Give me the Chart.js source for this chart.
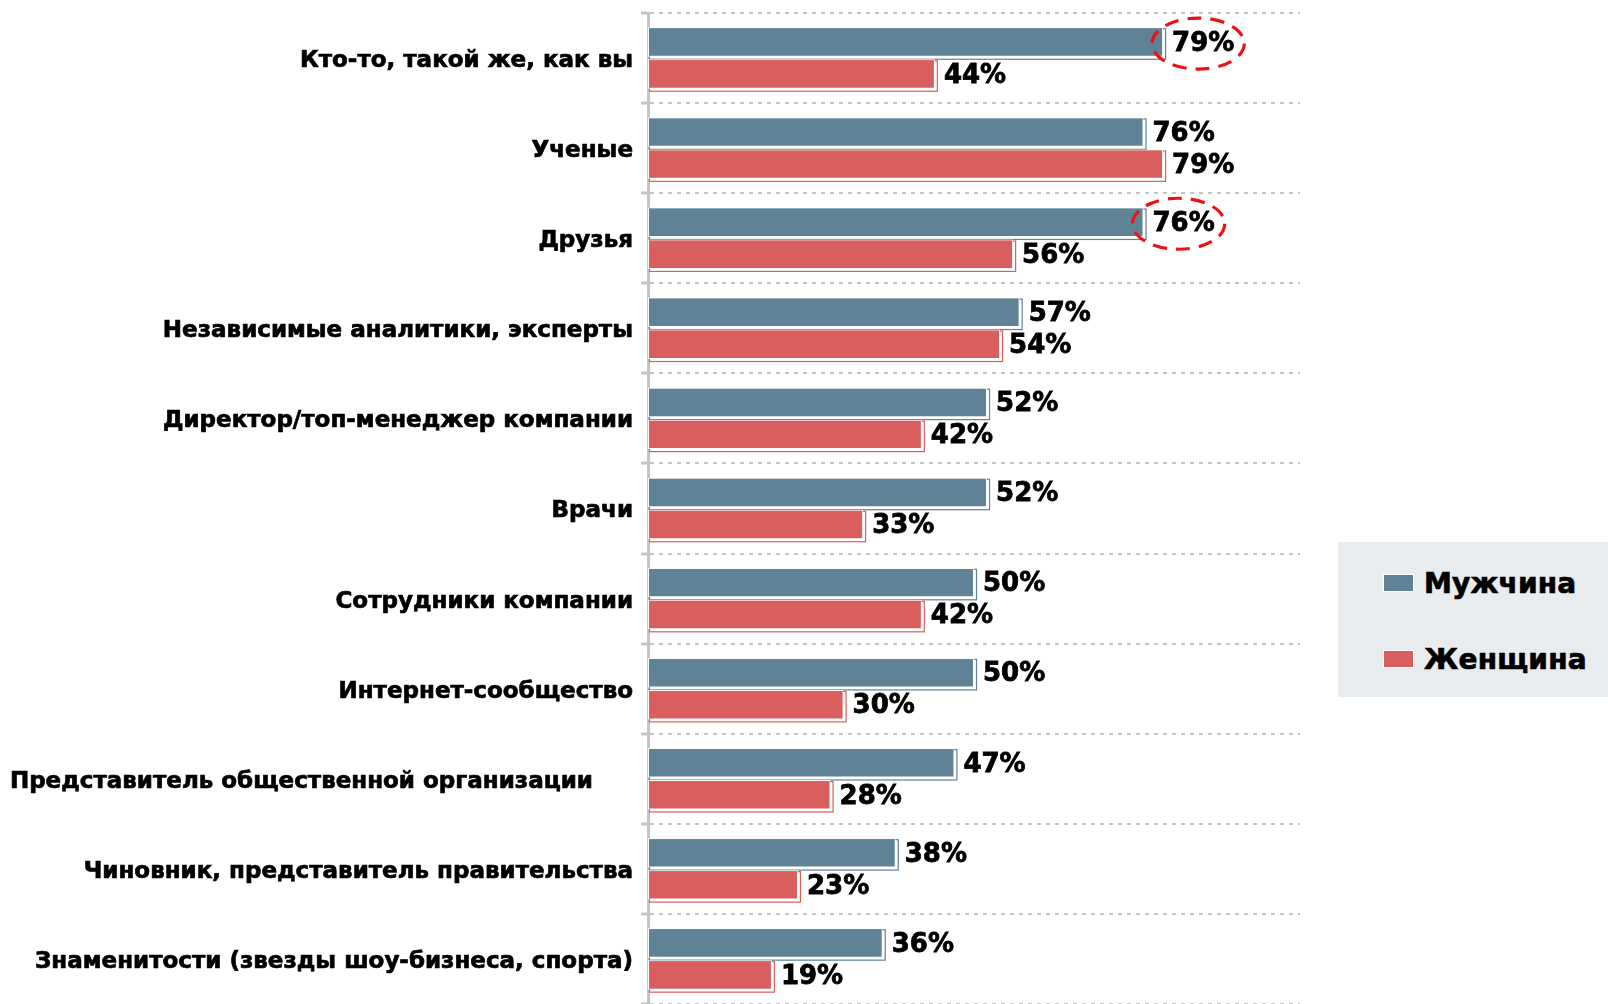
<!DOCTYPE html>
<html lang="ru">
<head>
<meta charset="utf-8">
<title>Кому доверяют: мужчины и женщины</title>
<script src="https://cdn.jsdelivr.net/npm/chart.js@4.4.1/dist/chart.umd.min.js"></script>
<style>
  html, body { margin: 0; padding: 0; background: #ffffff; }
  #wrap { position: relative; width: 1608px; height: 1004px; overflow: hidden; }
  #chart { position: absolute; left: 0; top: 0; }
  #legend {
    position: absolute; left: 1338px; top: 542px; width: 270px; height: 155px;
    background: #e9ecee; font-family: "DejaVu Sans", Verdana, sans-serif; font-weight: bold;
  }
  .item { position: absolute; left: 45px; height: 34px; display: flex; align-items: center; }
  .swatch { position: relative; width: 29px; height: 16px; margin-right: 10px; border: 1px solid #fff; }
  .swatch::after { content: ""; position: absolute; left: 1px; top: 1px; width: 29px; height: 16px; border: 1px solid var(--c); z-index: -1; }
  .item span { font-size: 28px; color: #000; letter-spacing: 0.2px; -webkit-text-stroke: 0.7px #000; }
</style>
</head>
<body>
<div id="wrap">
  <canvas id="chart" width="1608" height="1004"></canvas>
  <div id="legend"></div>
</div>
<script>
// Categories (top to bottom)
const categories = [
  'Кто-то, такой же, как вы',
  'Ученые',
  'Друзья',
  'Независимые аналитики, эксперты',
  'Директор/топ-менеджер компании',
  'Врачи',
  'Сотрудники компании',
  'Интернет-сообщество',
  'Представитель общественной организации     ',
  'Чиновник, представитель правительства',
  'Знаменитости (звезды шоу-бизнеса, спорта)'
];

// Share of respondents, %
const seriesNames = ['Мужчина', 'Женщина'];
const menValues = [79, 76, 76, 57, 52, 52, 50, 50, 47, 38, 36];
const womenValues = [44, 79, 56, 54, 42, 33, 42, 30, 28, 23, 19];

// Circled values: category index in the male series
const highlightedMen = [0, 2];

const seriesColors = ['#5f8296', '#d95f5f'];
const FONT = '"DejaVu Sans", Verdana, sans-serif';

// Thin offset outline behind each bar
const barOutline = {
  id: 'barOutline',
  beforeDatasetsDraw(chart) {
    const ctx = chart.ctx;
    chart.data.datasets.forEach((ds, di) => {
      const meta = chart.getDatasetMeta(di);
      meta.data.forEach(bar => {
        const p = bar.getProps(['x', 'y', 'base', 'height'], true);
        const left = Math.min(p.base, p.x), w = Math.abs(p.x - p.base);
        const top = p.y - p.height / 2;
        ctx.save();
        ctx.strokeStyle = ds.backgroundColor;
        ctx.lineWidth = 1.2;
        ctx.strokeRect(left + 1.5, top + 1.5, w + 1, p.height + 1);
        ctx.restore();
      });
    });
  }
};

// Value labels and dashed highlight ellipses
const valueLabels = {
  id: 'valueLabels',
  afterDatasetsDraw(chart) {
    const ctx = chart.ctx;
    ctx.save();
    ctx.font = 'bold 26px ' + FONT;
    ctx.fillStyle = '#000';
    ctx.strokeStyle = '#000';
    ctx.lineWidth = 0.8;
    ctx.textBaseline = 'middle';
    ctx.textAlign = 'left';
    chart.data.datasets.forEach((ds, di) => {
      const meta = chart.getDatasetMeta(di);
      meta.data.forEach((bar, i) => {
        const p = bar.getProps(['x', 'y'], true);
        const txt = ds.data[i] + '%';
        const tx = p.x + 9;
        ctx.fillText(txt, tx, p.y + 2);
        ctx.strokeText(txt, tx, p.y + 2);
        if (di === 0 && highlightedMen.includes(i)) {
          const w = ctx.measureText(txt).width;
          ctx.save();
          ctx.strokeStyle = '#ee1111';
          ctx.lineWidth = 3.2;
          ctx.setLineDash([14, 9]);
          ctx.beginPath();
          ctx.ellipse(tx + w / 2 - 5, p.y + 1.5, w / 2 + 15, 25.5, 0, 0, Math.PI * 2);
          ctx.stroke();
          ctx.restore();
        }
      });
    });
    ctx.restore();
  }
};

const chart = new Chart(document.getElementById('chart'), {
  type: 'bar',
  data: {
    labels: categories,
    datasets: [
      { label: seriesNames[0], data: menValues, backgroundColor: seriesColors[0],
        borderColor: '#ffffff', borderWidth: 1, borderSkipped: false,
        categoryPercentage: 0.71, barPercentage: 0.92 },
      { label: seriesNames[1], data: womenValues, backgroundColor: seriesColors[1],
        borderColor: '#ffffff', borderWidth: 1, borderSkipped: false,
        categoryPercentage: 0.71, barPercentage: 0.92 }
    ]
  },
  options: {
    indexAxis: 'y',
    responsive: false,
    animation: false,
    layout: { padding: { left: 0, right: 308, top: 13, bottom: -1 } },
    plugins: { legend: { display: false }, tooltip: { enabled: false } },
    scales: {
      x: { display: false, min: 0, max: 100 },
      y: {
        afterFit(scale) {
          scale.width = 648;
          scale.paddingTop = 0;
          scale.paddingBottom = 0;
        },
        ticks: {
          color: '#000',
          padding: 8,
          labelOffset: 3,
          textStrokeColor: '#000',
          textStrokeWidth: 0.7,
          font: { family: FONT, weight: 'bold', size: 23 }
        },
        grid: {
          offset: true,
          color: '#c4c4c4',
          lineWidth: 2,
          tickLength: 7,
          tickColor: '#c4c4c4',
          tickWidth: 3,
          tickBorderDash: []
        },
        border: { display: true, color: '#c4c4c4', width: 3, dash: [4, 5] }
      }
    }
  },
  plugins: [barOutline, valueLabels]
});

// Legend built from the datasets
const legend = document.getElementById('legend');
chart.data.datasets.forEach((ds, i) => {
  const item = document.createElement('div');
  item.className = 'item';
  item.style.top = (i === 0 ? 24 : 100) + 'px';
  const sw = document.createElement('div');
  sw.className = 'swatch';
  sw.style.background = ds.backgroundColor;
  sw.style.setProperty('--c', ds.backgroundColor);
  const label = document.createElement('span');
  label.textContent = ds.label;
  item.appendChild(sw);
  item.appendChild(label);
  legend.appendChild(item);
});
</script>
</body>
</html>
